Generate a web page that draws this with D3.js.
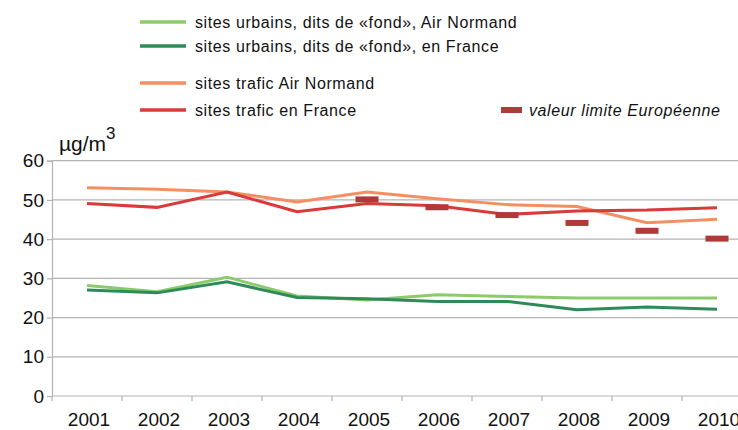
<!DOCTYPE html>
<html lang="fr">
<head>
<meta charset="UTF-8">
<script src="https://d3js.org/d3.v7.min.js"></script>
<style>
  body { margin: 0; background: #fff; font-family: "Liberation Sans", Arial, sans-serif; }
  svg { display: block; }
</style>
</head>
<body>
<svg id="chart" width="738" height="430"></svg>
<script>
const years = ["2001", "2002", "2003", "2004", "2005", "2006", "2007", "2008", "2009", "2010"];
const urbainAirNormand = [28.2, 26.6, 30.3, 25.5, 24.5, 25.8, 25.4, 25.0, 25.0, 25.0];
const urbainFrance = [27.0, 26.3, 29.1, 25.1, 24.8, 24.1, 24.1, 22.0, 22.7, 22.1];
const traficAirNormand = [53.1, 52.7, 52.0, 49.5, 52.0, 50.3, 48.8, 48.3, 44.2, 45.1];
const traficFrance = [49.1, 48.1, 52.0, 47.0, 49.1, 48.5, 46.3, 47.2, 47.4, 48.0];
const limitYears = ["2005", "2006", "2007", "2008", "2009", "2010"];
const limitValues = [50, 48, 46, 44, 42, 40];
const yTicks = [0, 10, 20, 30, 40, 50, 60];

const series = [
  { name: "sites urbains, dits de «fond», Air Normand", values: urbainAirNormand, color: "#8bcb6b" },
  { name: "sites urbains, dits de «fond», en France", values: urbainFrance, color: "#2f8a5a" },
  { name: "sites trafic Air Normand", values: traficAirNormand, color: "#f58e60" },
  { name: "sites trafic en France", values: traficFrance, color: "#d93a3a" }
];
const limitColor = "#b0393a";

const svg = d3.select("#chart");
const plotLeft = 52, plotTop = 160.7, plotBottom = 396, plotRight = 752;

const x = d3.scaleBand().domain(years).range([plotLeft, plotRight]);
const y = d3.scaleLinear().domain([0, 60]).range([plotBottom, plotTop]);

// grid
svg.append("g")
  .selectAll("line")
  .data(yTicks.filter(d => d > 0))
  .join("line")
  .attr("x1", plotLeft).attr("x2", plotRight)
  .attr("y1", d => y(d)).attr("y2", d => y(d))
  .attr("stroke", "#b3b3b3").attr("stroke-width", 1.2);

// y axis
const yAxis = svg.append("g")
  .attr("transform", `translate(${plotLeft},0)`)
  .call(d3.axisLeft(y).tickValues(yTicks).tickSize(5).tickPadding(3));
yAxis.select(".domain").attr("stroke", "#b3b3b3").attr("stroke-width", 1.2);
yAxis.selectAll(".tick line").attr("stroke", "#b3b3b3").attr("stroke-width", 1.2);
yAxis.selectAll(".tick text")
  .attr("font-family", "Liberation Sans, Arial, sans-serif")
  .attr("font-size", 19).attr("fill", "#111");

// x axis: ticks at band boundaries
svg.append("line")
  .attr("x1", plotLeft).attr("x2", plotRight)
  .attr("y1", plotBottom).attr("y2", plotBottom)
  .attr("stroke", "#b3b3b3").attr("stroke-width", 1.2);
svg.append("g")
  .selectAll("line")
  .data(years)
  .join("line")
  .attr("x1", d => x(d)).attr("x2", d => x(d))
  .attr("y1", plotBottom).attr("y2", plotBottom + 5)
  .attr("stroke", "#b3b3b3").attr("stroke-width", 1.2);
svg.append("g")
  .selectAll("text")
  .data(years)
  .join("text")
  .attr("x", d => x(d) + x.bandwidth() / 2 + 2)
  .attr("y", 426)
  .attr("text-anchor", "middle")
  .attr("font-size", 19).attr("fill", "#111")
  .text(d => d);

// unit label
const unit = svg.append("text")
  .attr("x", 59).attr("y", 151)
  .attr("font-size", 21).attr("fill", "#111");
unit.append("tspan").text("µg/m");
unit.append("tspan").attr("dy", -12).attr("font-size", 17).text("3");

// lines
const line = d3.line()
  .x((d, i) => x(years[i]) + x.bandwidth() / 2)
  .y(d => y(d));

svg.append("g")
  .selectAll("path")
  .data(series)
  .join("path")
  .attr("d", d => line(d.values))
  .attr("fill", "none")
  .attr("stroke", d => d.color)
  .attr("stroke-width", 3);

// limit markers
svg.append("g")
  .selectAll("rect")
  .data(limitYears)
  .join("rect")
  .attr("x", d => x(d) + x.bandwidth() / 2 - 11.5)
  .attr("y", (d, i) => y(limitValues[i]) - 3.5)
  .attr("width", 23).attr("height", 6)
  .attr("fill", limitColor);

// legend
const legendY = [22, 46, 83, 110];
const legend = svg.append("g")
  .attr("font-size", 16).attr("letter-spacing", 0.6).attr("fill", "#111");
series.forEach((s, i) => {
  legend.append("line")
    .attr("x1", 140).attr("x2", 186)
    .attr("y1", legendY[i]).attr("y2", legendY[i])
    .attr("stroke", s.color).attr("stroke-width", 3.5);
  legend.append("text")
    .attr("x", 195).attr("y", legendY[i] + 5.5)
    .text(s.name);
});
legend.append("rect")
  .attr("x", 501).attr("y", 107)
  .attr("width", 21).attr("height", 6)
  .attr("fill", limitColor);
legend.append("text")
  .attr("x", 529).attr("y", 115.5)
  .attr("font-style", "italic")
  .text("valeur limite Européenne");
</script>
</body>
</html>
